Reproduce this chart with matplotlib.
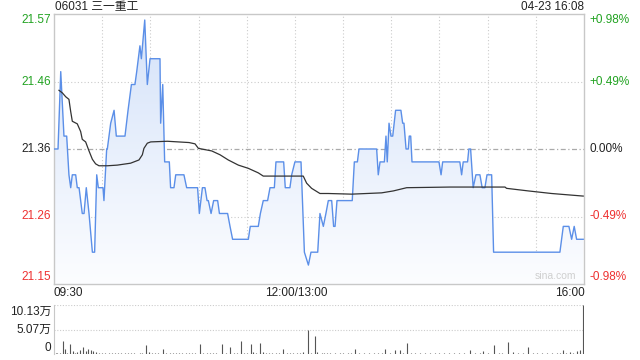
import numpy as np
import matplotlib
matplotlib.use('Agg')
import matplotlib.pyplot as plt
from matplotlib.colors import LinearSegmentedColormap
from matplotlib.patches import Polygon

plt.rcParams['font.family'] = ['Liberation Sans', 'Noto Sans CJK SC', 'DejaVu Sans']

title_text = "06031 三一重工"
stamp_text = "04-23 16:08"
prev_close = 21.36
max_pct = 0.98
price_labels = ["21.57", "21.46", "21.36", "21.26", "21.15"]
pct_labels = ["+0.98%", "+0.49%", "0.00%", "-0.49%", "-0.98%"]
label_colors = ["#22a322", "#22a322", "#222222", "#ee3030", "#ee3030"]
time_labels = ["09:30", "12:00/13:00", "16:00"]
vol_labels = ["10.13万", "5.07万", "0"]
vol_max = 101300

# minute index (0..330 trading minutes) and price
price_t = [0, 2.5, 4.2, 6.2, 7.9, 9.3, 10.4, 11.4, 13.5, 14.5, 15.6, 17.6, 18.7, 20.1, 21.8,
           23.9, 25.3, 26.6, 27.6, 30.5, 31.1, 32.8, 33.2, 35.3, 37.4, 38.8, 44.2, 46.1, 48.2,
           50.4, 51.5, 53.5, 54.4, 56.5, 58.1, 59.8, 66.0, 66.4, 67.7, 68.9, 71.8, 72.6, 74.7,
           75.8, 80.9, 82.6, 89.4, 90.5, 92.4, 94.0, 95.3, 96.1, 97.8, 99.4, 101.9, 103.0,
           108.1, 109.6, 111.2, 121.0, 122.2, 127.2, 128.5, 130.3, 133.0, 134.5, 137.2, 138.2,
           143.0, 144.0, 146.9, 148.0, 150.0, 153.8, 155.9, 158.4, 160.0, 164.2, 165.6, 167.7,
           169.3, 170.8, 172.9, 174.1, 175.0, 176.2, 185.7, 187.0, 188.9, 189.9, 200.9, 201.9,
           203.0, 205.7, 206.7, 207.5, 208.6, 209.8, 210.9, 212.7, 216.0, 217.1, 217.9, 219.2,
           220.6, 221.2, 222.1, 222.9, 239.7, 241.0, 242.0, 252.7, 253.8, 254.8, 257.5, 258.3,
           259.4, 261.0, 262.7, 265.2, 266.6, 268.3, 269.6, 272.5, 273.7, 315.0, 317.1, 320.6,
           322.3, 323.9, 325.4, 329.5]
price_v = [21.36, 21.36, 21.48, 21.38, 21.38, 21.32, 21.30, 21.32, 21.32, 21.30, 21.30, 21.26,
           21.26, 21.30, 21.26, 21.20, 21.20, 21.32, 21.30, 21.30, 21.28, 21.36, 21.36, 21.40,
           21.42, 21.38, 21.38, 21.42, 21.46, 21.46, 21.48, 21.52, 21.50, 21.56, 21.46, 21.50,
           21.50, 21.40, 21.46, 21.34, 21.34, 21.30, 21.30, 21.32, 21.32, 21.30, 21.30, 21.26,
           21.30, 21.30, 21.28, 21.28, 21.26, 21.28, 21.28, 21.26, 21.26, 21.24, 21.22, 21.22,
           21.24, 21.24, 21.26, 21.28, 21.28, 21.30, 21.30, 21.34, 21.34, 21.30, 21.30, 21.32,
           21.34, 21.34, 21.20, 21.18, 21.20, 21.20, 21.26, 21.24, 21.26, 21.28, 21.28, 21.24,
           21.24, 21.28, 21.28, 21.34, 21.34, 21.36, 21.36, 21.32, 21.34, 21.34, 21.38, 21.34,
           21.40, 21.38, 21.38, 21.42, 21.42, 21.40, 21.40, 21.36, 21.36, 21.38, 21.38, 21.34,
           21.34, 21.32, 21.34, 21.34, 21.32, 21.34, 21.34, 21.36, 21.36, 21.30, 21.32, 21.32,
           21.30, 21.30, 21.32, 21.32, 21.20, 21.20, 21.24, 21.24, 21.22, 21.24, 21.22, 21.22]

avg_t = [3.1, 5.2, 7.3, 9.3, 10.4, 11.4, 14.5, 16.6, 17.6, 19.7, 21.8, 23.9, 25.9, 28.0, 33.2,
         39.4, 47.7, 52.9, 55.0, 56.0, 58.1, 60.2, 70.6, 84.1, 87.8, 89.9, 98.2, 103.4, 108.5,
         114.8, 121.0, 127.2, 130.3, 155.2, 157.3, 160.4, 165.6, 170.8, 185.3, 204.0, 211.3,
         219.6, 246.6, 280.8, 281.8, 295.3, 309.8, 329.5]
avg_v = [21.451, 21.447, 21.441, 21.437, 21.418, 21.403, 21.399, 21.387, 21.375, 21.371, 21.357,
         21.344, 21.337, 21.334, 21.334, 21.335, 21.338, 21.343, 21.351, 21.361, 21.369, 21.371,
         21.372, 21.370, 21.368, 21.361, 21.357, 21.351, 21.343, 21.335, 21.330, 21.323, 21.318,
         21.318, 21.307, 21.299, 21.291, 21.291, 21.290, 21.292, 21.295, 21.300, 21.301, 21.301,
         21.299, 21.295, 21.291, 21.287]

vol_t = [1, 2, 3.7, 5.4, 6.8, 8.2, 10.0, 11.6, 13.0, 14.5, 16.2, 18.3, 19.9, 21.4, 22.8, 24.5,
         26.1, 28, 30, 32, 34, 36, 38, 40.0, 42, 44, 46, 48, 50, 53.5, 55, 57.1, 59, 61, 63, 65,
         68.1, 70, 72, 74, 76, 78, 80, 82, 84, 86, 88, 90.9, 93, 95, 97, 99, 101, 104.8, 107,
         109.6, 112, 114, 116.4, 118, 120, 122.4, 124, 126, 128.3, 130.3, 132, 134, 136, 138,
         140, 142.8, 145, 147, 149, 151, 153, 155.2, 158.3, 160, 162.5, 164, 166.6, 168, 170,
         172, 175, 178, 180, 183, 185, 187.4, 190, 193, 196, 199, 202, 204, 206.1, 209, 212.3,
         215.4, 217, 219.6, 222, 225, 228, 231, 234, 237, 240, 243, 246, 249, 252, 255, 259.0,
         262, 265, 267.3, 270, 273.9, 277, 279, 282.5, 286.0, 289, 292, 295.3, 298, 301, 304,
         307, 310, 313, 315, 317.1, 319, 321.3, 323, 325.4, 327.5, 329.5]
vol_v = [2500, 1500, 3000, 27000, 10000, 3000, 20000, 6000, 2500, 5000, 8000, 14000, 6000,
         10000, 9000, 7000, 4000, 2000, 1500, 2200, 1200, 1800, 1500, 3000, 1200, 1600, 1400,
         1900, 1300, 3000, 2200, 18600, 3500, 2000, 1500, 1800, 10000, 3000, 1600, 1400, 2200,
         1300, 1700, 1200, 1500, 2100, 1400, 20600, 2500, 1600, 1300, 1900, 2200, 20600, 2600,
         14000, 1800, 2400, 27000, 3000, 2500, 20600, 4000, 1800, 22700, 4000, 2600, 1800, 1500,
         2000, 2400, 10000, 1700, 1500, 2200, 1300, 1800, 5000, 49600, 2500, 37800, 4000, 3000,
         1500, 2200, 1600, 2400, 1400, 1900, 2300, 1600, 11000, 1800, 1500, 2100, 1400, 1900,
         2600, 10000, 3000, 8000, 9000, 3000, 23400, 2200, 1600, 1400, 1800, 1300, 1700, 1500,
         2000, 1400, 1600, 2200, 1800, 8000, 2400, 1500, 6000, 2800, 18600, 2000, 3000, 24000,
         5000, 2200, 1700, 15000, 1600, 1900, 1500, 1800, 1400, 2300, 1700, 8000, 2500, 4000,
         3000, 6000, 8000, 101300]

W, H = 640, 360
fig = plt.figure(figsize=(6.4, 3.6), dpi=100)

def fx(px):
    return px / W

def fy(py):
    return 1 - py / H

L, R = 54, 584
PT, PB = 14, 284
VT, VB = 305, 354

ax = fig.add_axes([fx(L), fy(PB), fx(R) - fx(L), fy(PT) - fy(PB)])
ylo = prev_close * (1 - max_pct / 100)
yhi = prev_close * (1 + max_pct / 100)
ax.set_xlim(0, 330)
ax.set_ylim(ylo, yhi)
ax.set_xticks([])
ax.set_yticks([])
for s in ax.spines.values():
    s.set_color('#c8c8c8')
    s.set_linewidth(1.0)

# grid
for m in range(30, 330, 30):
    ax.axvline(m, color='#cccccc', lw=0.8, ls=(0, (1, 2)), zorder=0.5)
ax.axhline(prev_close * (1 + 0.49 / 100), color='#cccccc', lw=0.8, ls=(0, (1, 2)), zorder=0.5)
ax.axhline(prev_close * (1 - 0.49 / 100), color='#cccccc', lw=0.8, ls=(0, (1, 2)), zorder=0.5)
ax.axhline(prev_close, color='#aaaaaa', lw=0.9, ls=(0, (4, 2, 1, 2)), zorder=0.5)

# gradient fill under price
verts = list(zip(price_t, price_v)) + [(price_t[-1], ylo), (price_t[0], ylo)]
poly = Polygon(verts, closed=True, facecolor='none', edgecolor='none')
ax.add_patch(poly)
grad = np.linspace(1, 0, 256).reshape(-1, 1)
cmap = LinearSegmentedColormap.from_list('g', ['#fcfdff', '#d4e2f9'])
im = ax.imshow(grad, cmap=cmap, extent=[0, 330, ylo, yhi], aspect='auto',
               origin='upper', zorder=1, interpolation='bilinear')
im.set_clip_path(poly)

ax.plot(price_t, price_v, color='#5b8fe8', lw=1.0, zorder=3)
ax.plot(avg_t, avg_v, color='#333333', lw=0.9, zorder=4)

ax.text(0.985, 0.01, 'sina.com', transform=ax.transAxes, ha='right', va='bottom',
        fontsize=7.5, color='#cfcfcf', zorder=5)

# volume axes
vx = fig.add_axes([fx(L), fy(VB), fx(R) - fx(L), fy(VT) - fy(VB)])
vx.set_xlim(0, 330)
vx.set_ylim(0, vol_max)
vx.set_xticks([])
vx.set_yticks([])
for k in ['top', 'right', 'bottom']:
    vx.spines[k].set_visible(False)
vx.spines['left'].set_color('#c8c8c8')
vx.axhline(vol_max, color='#cccccc', lw=0.8, ls=(0, (1, 1.5)))
vx.axhline(vol_max / 2, color='#cccccc', lw=0.8, ls=(0, (1, 1.5)))
vx.vlines(vol_t, 0, vol_v, color='#555555', lw=0.8)

fs = 8.5
# texts
fig.text(fx(55), fy(7), title_text, ha='left', va='center', fontsize=fs, color='#222222')
fig.text(fx(584), fy(7), stamp_text, ha='right', va='center', fontsize=fs, color='#222222')

ly = [20, 82, 149, 216, 277]
for y, t, c in zip(ly, price_labels, label_colors):
    fig.text(fx(51), fy(y), t, ha='right', va='center', fontsize=fs, color=c)
for y, t, c in zip(ly, pct_labels, label_colors):
    fig.text(fx(589), fy(y), t, ha='left', va='center', fontsize=fs, color=c)

fig.text(fx(54), fy(293), time_labels[0], ha='left', va='center', fontsize=fs, color='#222222')
fig.text(fx(296), fy(293), time_labels[1], ha='center', va='center', fontsize=fs, color='#222222')
fig.text(fx(585), fy(293), time_labels[2], ha='right', va='center', fontsize=fs, color='#222222')

vy = [312, 330, 348]
for y, t in zip(vy, vol_labels):
    fig.text(fx(51), fy(y), t, ha='right', va='center', fontsize=fs, color='#222222')

fig.savefig('out.png', dpi=100)
